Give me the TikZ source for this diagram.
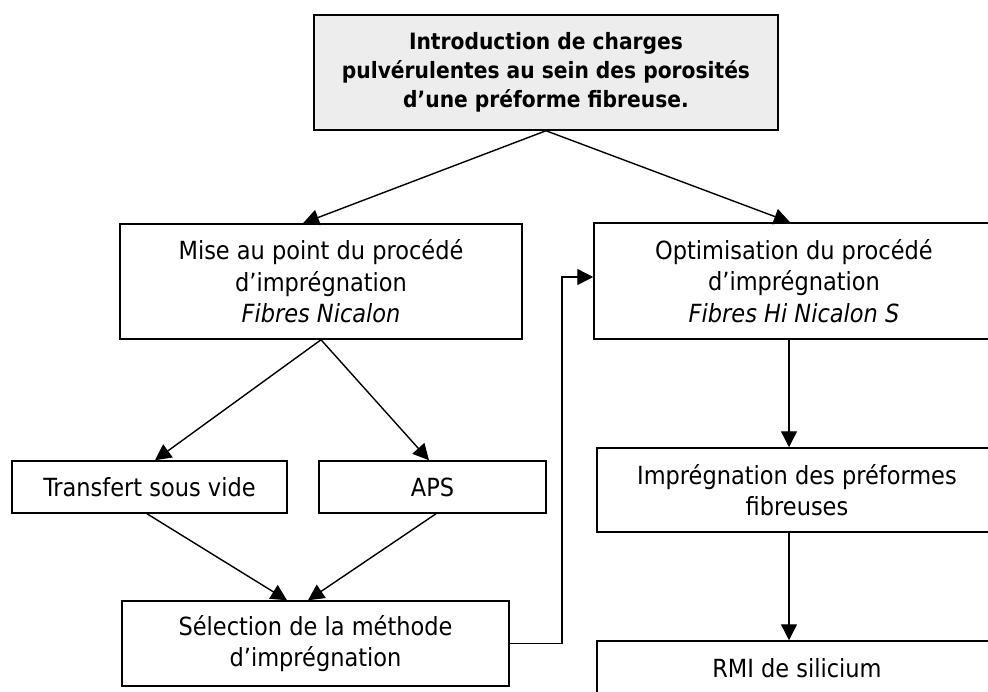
\documentclass[tikz,border=0pt]{standalone}
\usepackage{fontspec}
\setmainfont{DejaVu Sans Condensed}
\usetikzlibrary{arrows.meta}
\definecolor{titlegray}{HTML}{EDEDED}
\begin{document}
\begin{tikzpicture}[x=1pt,y=-1pt,
  box/.style={draw, line width=1.5pt, rectangle, inner sep=0pt, align=center,
     font=\fontsize{25}{31.5}\selectfont},
  titlebox/.style={box, fill=titlegray, font=\fontsize{22.5}{29}\selectfont\bfseries},
  conn/.style={line width=1.4pt},
  arr/.style={conn, -{Triangle[length=16pt,width=16pt]}}
]
\useasboundingbox (0,0) rectangle (988,691);
\clip (0,0) rectangle (988,691);
\fill[white] (0,0) rectangle (988,691);

\node[titlebox, minimum width=464, minimum height=115] (top) at (546,72.5)
  {Introduction de charges\\pulvérulentes au sein des porosités\\d’une préforme fibreuse.};
\node[box, minimum width=402, minimum height=115] (mise) at (321,281.5)
  {Mise au point du procédé\\d’imprégnation\\\textit{Fibres Nicalon}};
\node[box, minimum width=400, minimum height=116] (opt) at (794,281)
  {Optimisation du procédé\\d’imprégnation\\\textit{Fibres Hi Nicalon S}};
\node[box, minimum width=275, minimum height=52] (trans) at (149.5,487)
  {Transfert sous vide};
\node[box, minimum width=227, minimum height=52] (aps) at (432.5,487)
  {APS};
\node[box, minimum width=387, minimum height=85] (sel) at (315.5,643.5)
  {Sélection de la méthode\\d’imprégnation};
\node[box, minimum width=400, minimum height=84] (imp) at (797,490)
  {Imprégnation des préformes\\fibreuses};
\node[box, minimum width=400, minimum height=54] (rmi) at (797,668)
  {RMI de silicium};

\coordinate (bend) at (562,277);

\draw[arr] (top.south) -- ([xshift=-18pt]mise.north);
\draw[arr] (top.south) -- ([xshift=-4pt]opt.north);
\draw[arr] (mise.south) -- ([xshift=5.5pt]trans.north);
\draw[arr] (mise.south) -- ([xshift=-3.5pt]aps.north);
\draw[arr] ([xshift=-2.5pt]trans.south) -- ([xshift=-28.5pt]sel.north);
\draw[arr] ([xshift=3.5pt]aps.south) -- ([xshift=-7.5pt]sel.north);
\draw[arr] (sel.east) -| (bend) -- (bend -| opt.west);
\draw[arr] ([xshift=-5pt]opt.south) -- ([xshift=-8pt]imp.north);
\draw[arr] ([xshift=-8pt]imp.south) -- ([xshift=-8pt]rmi.north);
\end{tikzpicture}
\end{document}
